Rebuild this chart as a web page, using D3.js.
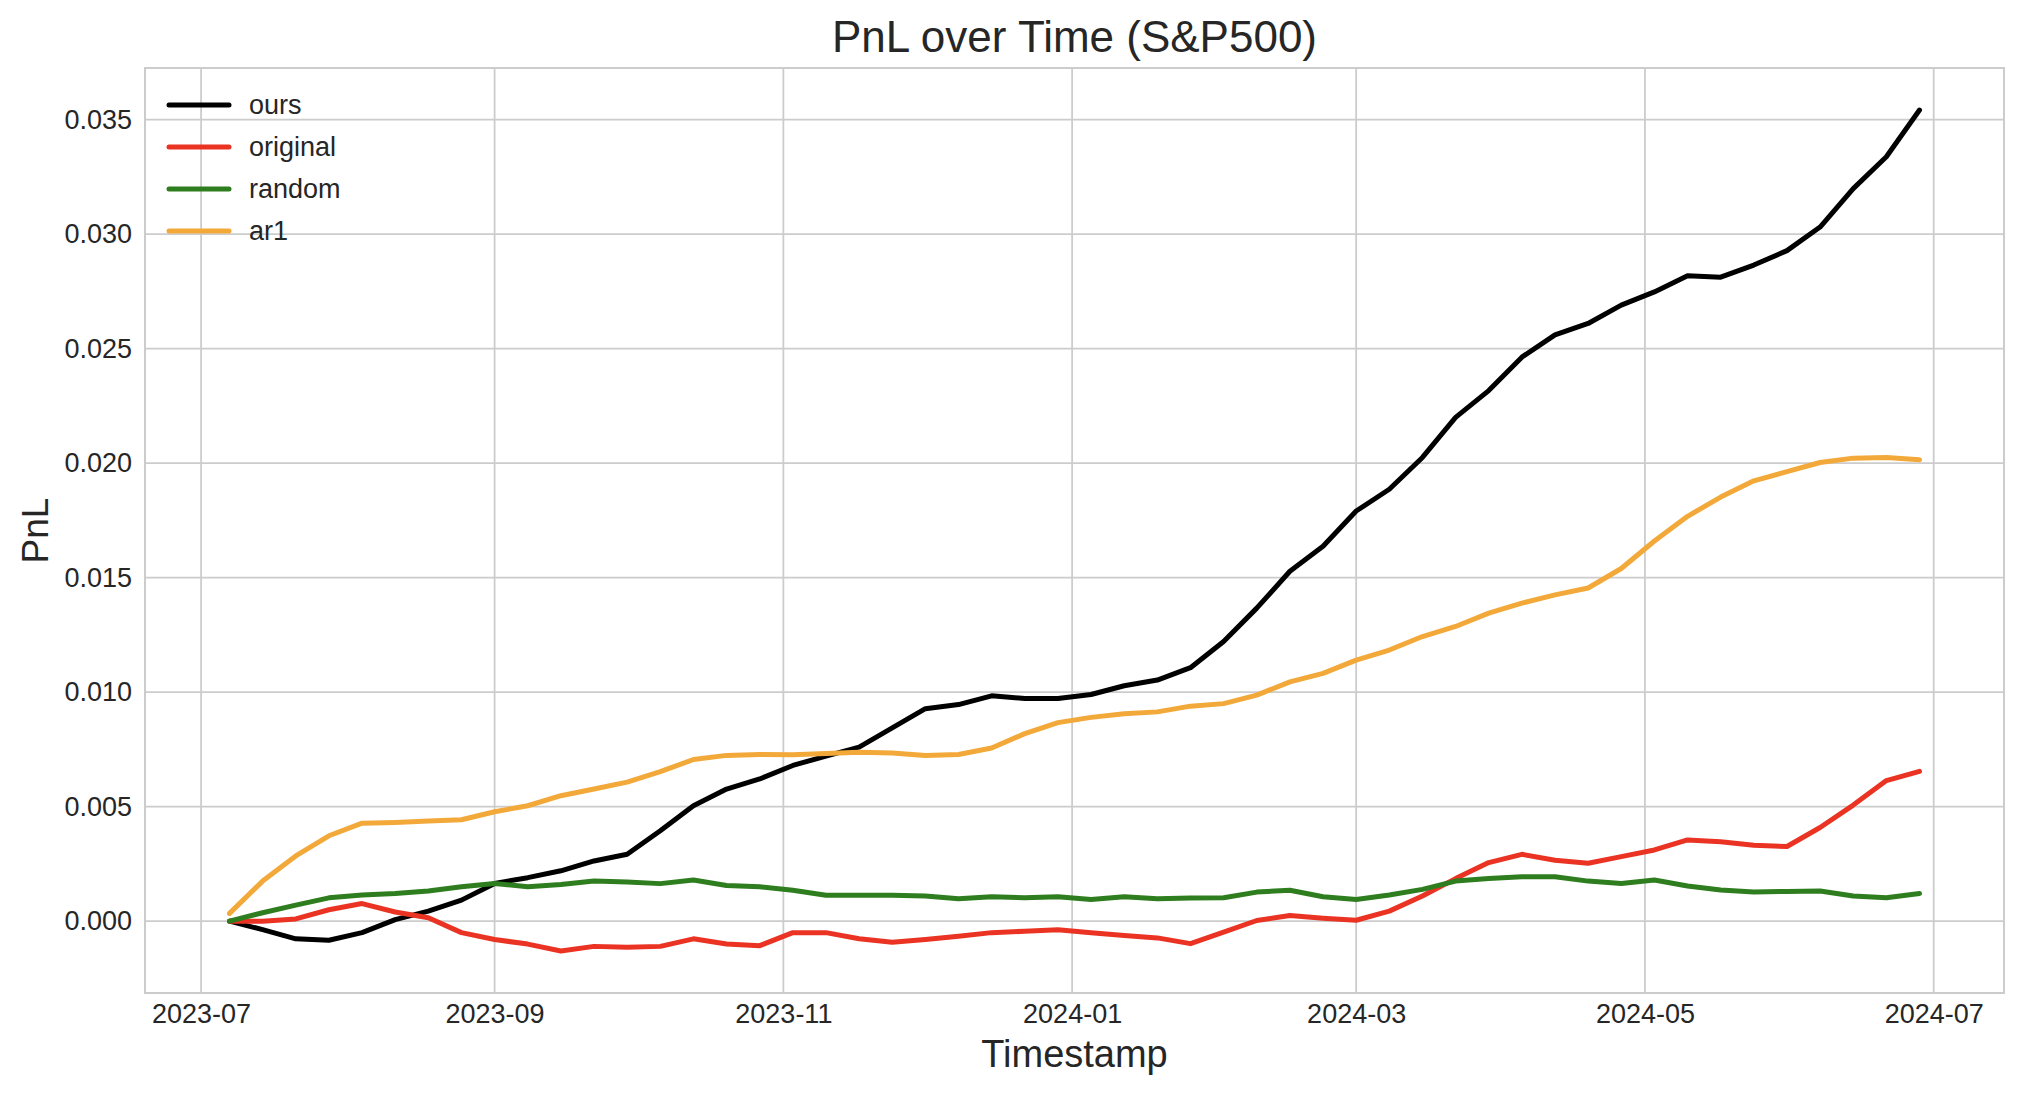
<!DOCTYPE html>
<html>
<head>
<meta charset="utf-8">
<script src="https://cdn.jsdelivr.net/npm/d3@7"></script>
<style>
  body { margin: 0; background: #fff; }
  text { font-family: "Liberation Sans", Arial, sans-serif; fill: #262626; }
</style>
</head>
<body>
<div id="pnlplot"></div>
<script>
// weekly samples
const dates = [
  "2023-07-07", "2023-07-14", "2023-07-21", "2023-07-28", "2023-08-04", "2023-08-11", "2023-08-18", "2023-08-25",
  "2023-09-01", "2023-09-08", "2023-09-15", "2023-09-22", "2023-09-29", "2023-10-06", "2023-10-13", "2023-10-20",
  "2023-10-27", "2023-11-03", "2023-11-10", "2023-11-17", "2023-11-24", "2023-12-01", "2023-12-08", "2023-12-15",
  "2023-12-22", "2023-12-29", "2024-01-05", "2024-01-12", "2024-01-19", "2024-01-26", "2024-02-02", "2024-02-09",
  "2024-02-16", "2024-02-23", "2024-03-01", "2024-03-08", "2024-03-15", "2024-03-22", "2024-03-29", "2024-04-05",
  "2024-04-12", "2024-04-19", "2024-04-26", "2024-05-03", "2024-05-10", "2024-05-17", "2024-05-24", "2024-05-31",
  "2024-06-07", "2024-06-14", "2024-06-21", "2024-06-28"
];

const ours = [
  0.0, -0.00037, -0.00077, -0.00083, -0.0005, 0.00007, 0.00044, 0.00092,
  0.00165, 0.0019, 0.0022, 0.00263, 0.00292, 0.00395, 0.00504, 0.00577,
  0.00621, 0.0068, 0.00721, 0.0076, 0.00844, 0.00928, 0.00946, 0.00984,
  0.00972, 0.00972, 0.0099, 0.01028, 0.01053, 0.01107, 0.01221, 0.01367,
  0.01528, 0.01637, 0.01791, 0.01886, 0.02025, 0.022, 0.02317, 0.02463,
  0.0256, 0.0261, 0.0269, 0.02748, 0.02818, 0.02812, 0.02865, 0.02928,
  0.03031, 0.03199, 0.03338, 0.03542
];

const original = [
  0.0, 0.0, 0.0001, 0.0005, 0.00077, 0.0004, 0.00015, -0.0005,
  -0.0008, -0.001, -0.0013, -0.0011, -0.00114, -0.0011, -0.00077, -0.001,
  -0.00107, -0.0005, -0.0005, -0.00077, -0.00092, -0.0008, -0.00066, -0.0005,
  -0.00044, -0.00037, -0.00051, -0.00063, -0.00073, -0.00098, -0.00048, 0.00003,
  0.00025, 0.00013, 0.00004, 0.00044, 0.0011, 0.00186, 0.00256, 0.00292,
  0.00266, 0.00253, 0.00282, 0.00311, 0.00355, 0.00347, 0.00332, 0.00326,
  0.00409, 0.00507, 0.00614, 0.00654
];

const random = [
  0.0, 0.00037, 0.0007, 0.00102, 0.00114, 0.00121, 0.00132, 0.0015,
  0.00165, 0.0015, 0.0016, 0.00175, 0.00171, 0.00164, 0.0018, 0.00156,
  0.0015, 0.00135, 0.00113, 0.00113, 0.00113, 0.0011, 0.00098, 0.00107,
  0.00102, 0.00107, 0.00095, 0.00107, 0.00098, 0.00101, 0.00102, 0.00127,
  0.00135, 0.00107, 0.00095, 0.00114, 0.00139, 0.00175, 0.00186, 0.00194,
  0.00194, 0.00175, 0.00165, 0.0018, 0.00154, 0.00136, 0.00127, 0.0013,
  0.00132, 0.0011, 0.00102, 0.00121
];

const ar1 = [
  0.00034, 0.00175, 0.00285, 0.00373, 0.00428, 0.00431, 0.00437, 0.00443,
  0.00478, 0.00504, 0.00548, 0.00577, 0.00607, 0.00653, 0.00706, 0.00724,
  0.00728, 0.00727, 0.00732, 0.00738, 0.00734, 0.00724, 0.00728, 0.00756,
  0.00819, 0.00867, 0.0089, 0.00906, 0.00914, 0.00939, 0.0095, 0.00987,
  0.01045, 0.01082, 0.0114, 0.01184, 0.01243, 0.01287, 0.01345, 0.01389,
  0.01425, 0.01455, 0.0154, 0.0166, 0.01768, 0.01852, 0.01923, 0.01963,
  0.02003, 0.02022, 0.02025, 0.02015
];

const yTicks = [0.000, 0.005, 0.010, 0.015, 0.020, 0.025, 0.030, 0.035];
const xTickLabels = ["2023-07", "2023-09", "2023-11", "2024-01", "2024-03", "2024-05", "2024-07"];

const seriesNames = ["ours", "original", "random", "ar1"];
const seriesColors = ["#000000", "#ea3323", "#2e7d1e", "#f2a93a"];
const allValues = [ours, original, random, ar1];

// Set the dimensions and margins of the graph
const W = 2024, H = 1094;
const margin = { top: 68, right: 20, bottom: 101, left: 145 },
    width = W - margin.left - margin.right,
    height = H - margin.top - margin.bottom;

const parseDay = d3.timeParse("%Y-%m-%d");
const parseMonth = d3.timeParse("%Y-%m");

const data = seriesNames.map((name, i) => ({
    name: name,
    color: seriesColors[i],
    points: dates.map((d, j) => ({ date: parseDay(d), value: allValues[i][j] }))
}));

const svg = d3.select("#pnlplot")
    .append("svg")
    .attr("width", W)
    .attr("height", H);

const g = svg.append("g")
    .attr("transform", "translate(" + margin.left + "," + margin.top + ")");

// matplotlib style 5% margins
const tExt = d3.extent(dates, d => parseDay(d));
const tPad = (tExt[1] - tExt[0]) * 0.05;
const x = d3.scaleTime()
    .domain([new Date(+tExt[0] - tPad), new Date(+tExt[1] + tPad)])
    .range([0, width]);

const vMin = d3.min(allValues, a => d3.min(a));
const vMax = d3.max(allValues, a => d3.max(a));
const vPad = (vMax - vMin) * 0.05;
const y = d3.scaleLinear()
    .domain([vMin - vPad, vMax + vPad])
    .range([height, 0]);

// grid lines
const xTicks = xTickLabels.map(s => parseMonth(s));
g.append("g")
    .selectAll("line")
    .data(xTicks)
    .join("line")
    .attr("x1", d => x(d)).attr("x2", d => x(d))
    .attr("y1", 0).attr("y2", height)
    .attr("stroke", "#cccccc")
    .attr("stroke-width", 1.8);

g.append("g")
    .selectAll("line")
    .data(yTicks)
    .join("line")
    .attr("x1", 0).attr("x2", width)
    .attr("y1", d => y(d)).attr("y2", d => y(d))
    .attr("stroke", "#cccccc")
    .attr("stroke-width", 1.8);

// X axis labels
const xAxis = g.append("g")
    .attr("transform", "translate(0," + height + ")")
    .call(d3.axisBottom(x).tickValues(xTicks).tickFormat(d3.timeFormat("%Y-%m")).tickSize(0).tickPadding(11));
xAxis.select(".domain").remove();
xAxis.selectAll("text")
    .attr("dy", "0.71em")
    .style("font-size", "27px")
    .style("font-family", "'Liberation Sans', Arial, sans-serif")
    .attr("fill", "#262626");

// Y axis labels
const yAxis = g.append("g")
    .call(d3.axisLeft(y).tickValues(yTicks).tickFormat(d3.format(".3f")).tickSize(0).tickPadding(13));
yAxis.select(".domain").remove();
yAxis.selectAll("text")
    .style("font-size", "27px")
    .style("font-family", "'Liberation Sans', Arial, sans-serif")
    .attr("fill", "#262626");

// frame
g.append("rect")
    .attr("width", width)
    .attr("height", height)
    .attr("fill", "none")
    .attr("stroke", "#cccccc")
    .attr("stroke-width", 2);

// lines
const line = d3.line()
    .x(d => x(d.date))
    .y(d => y(d.value));

g.selectAll(".series")
    .data(data)
    .join("path")
    .attr("class", "series")
    .attr("fill", "none")
    .attr("stroke", d => d.color)
    .attr("stroke-width", 5)
    .attr("stroke-linejoin", "round")
    .attr("stroke-linecap", "round")
    .attr("d", d => line(d.points));

// legend
const legend = g.selectAll(".legend")
    .data(data)
    .join("g")
    .attr("class", "legend")
    .attr("transform", (d, i) => "translate(24," + (37 + i * 42) + ")");

legend.append("line")
    .attr("x1", 0).attr("x2", 60)
    .attr("stroke", d => d.color)
    .attr("stroke-width", 5)
    .attr("stroke-linecap", "round");

legend.append("text")
    .attr("x", 80)
    .attr("dy", "0.35em")
    .style("font-size", "27px")
    .text(d => d.name);

// title and axis labels
svg.append("text")
    .attr("x", margin.left + width / 2)
    .attr("y", 52)
    .attr("text-anchor", "middle")
    .style("font-size", "44px")
    .text("PnL over Time (S&P500)");

svg.append("text")
    .attr("x", margin.left + width / 2)
    .attr("y", 1067)
    .attr("text-anchor", "middle")
    .style("font-size", "38px")
    .text("Timestamp");

svg.append("text")
    .attr("transform", "translate(48," + (margin.top + height / 2) + ") rotate(-90)")
    .attr("text-anchor", "middle")
    .style("font-size", "37px")
    .text("PnL");
</script>
</body>
</html>
